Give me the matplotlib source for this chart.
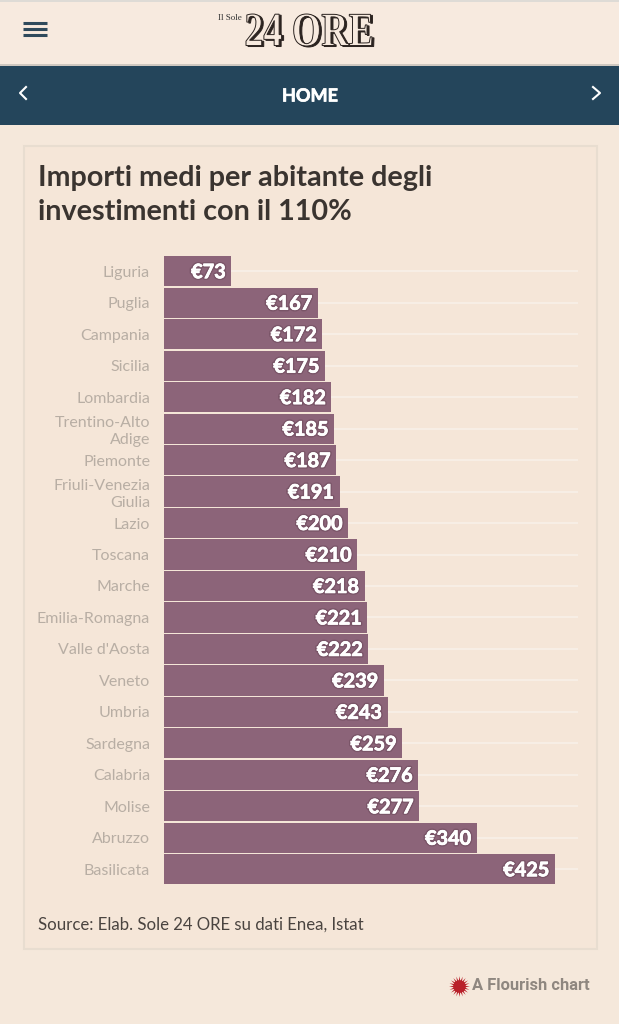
import matplotlib
matplotlib.use("Agg")
import matplotlib.pyplot as plt
import matplotlib.patheffects as pe
from matplotlib.patches import Rectangle, PathPatch
from matplotlib.markers import MarkerStyle
from matplotlib.textpath import TextPath
from matplotlib.font_manager import FontProperties
from matplotlib.transforms import Affine2D

regions = ["Liguria", "Puglia", "Campania", "Sicilia", "Lombardia", "Trentino-Alto\nAdige",
           "Piemonte", "Friuli-Venezia\nGiulia", "Lazio", "Toscana", "Marche", "Emilia-Romagna",
           "Valle d'Aosta", "Veneto", "Umbria", "Sardegna", "Calabria", "Molise", "Abruzzo", "Basilicata"]
values = [73, 167, 172, 175, 182, 185, 187, 191, 200, 210, 218, 221, 222, 239, 243, 259, 276, 277, 340, 425]

W, H = 619, 1024
BG = "#f5e8db"
BAR = "#8c6479"
NAVY = "#24455b"
FONT = "Lato"

plt.rcParams["font.family"] = [FONT, "DejaVu Sans"]
fig = plt.figure(figsize=(W / 100, H / 100), dpi=100, facecolor=BG)

# page furniture, drawn in pixel coordinates
page = fig.add_axes([0, 0, 1, 1])
page.set_xlim(0, W)
page.set_ylim(H, 0)
page.axis("off")
page.add_patch(Rectangle((0, 0), W, 65, fc="#f7eadf", ec="none"))
page.add_patch(Rectangle((0, 0), W, 1.5, fc="#dedbd6", ec="none"))
page.add_patch(Rectangle((0, 64), W, 2, fc="#cfc8c0", ec="none"))
page.add_patch(Rectangle((0, 66), W, 59, fc=NAVY, ec="none"))
page.add_patch(Rectangle((23.5, 145.5), 573, 803, fc="#f5e6d8", ec="#e8ddd0", lw=1.5))
for y in (23, 29, 35):
    page.plot([23, 47], [y, y], color="#2f4a5c", lw=2.2, solid_capstyle="butt")
page.text(310, 96, "HOME", color="white", fontsize=13, fontweight="bold", ha="center", va="center",
          path_effects=[pe.withStroke(linewidth=0.5, foreground="white")])
page.plot([26, 20, 26], [87, 93, 99], color="white", lw=1.5)
page.plot([593, 600, 593], [87, 93, 99], color="white", lw=1.5)
page.text(218, 18, "Il Sole", family="Liberation Serif", fontsize=6.5, color="#333333", va="center")

# logo wordmark squeezed to the tall narrow shape of the masthead
logo = TextPath((0, 0), "24 ORE", size=30, prop=FontProperties(family="Liberation Serif", weight="bold"))
bb = logo.get_extents()
sx, sy = 126 / bb.width, 32 / bb.height
for dx, fc, ec in ((2, "#2b2320", "#2b2320"), (0, "#f7eadf", "#2b2320")):
    tr = Affine2D().translate(-bb.x0, -bb.y0).scale(sx, -sy).translate(246 + dx, 46 + dx / 2) + page.transData
    page.add_patch(PathPatch(logo, fc=fc, ec=ec, lw=0.7, transform=tr))

page.text(38, 178, "Importi medi per abitante degli", fontsize=20.7, fontweight="bold", color="#3a3430", va="center")
page.text(38, 212, "investimenti con il 110%", fontsize=20.7, fontweight="bold", color="#3a3430", va="center")
page.text(38, 925, "Source: Elab. Sole 24 ORE su dati Enea, Istat", fontsize=12.1, color="#4a4440", va="center")
page.plot([459], [986], marker=MarkerStyle((20, 1, 0)), ms=15, color="#b9202a", mew=0)
page.plot([459], [986], marker="o", ms=9, color="#b9202a", mew=0)
page.text(472, 986, "A Flourish chart", family="Roboto", fontsize=11.9, fontweight="bold", color="#8f8780", va="center")

# chart area
ax = fig.add_axes([164 / W, 1 - 885 / H, (578 - 164) / W, (885 - 255.5) / H])
ax.patch.set_alpha(0)
ypos = list(range(len(values)))
ax.hlines(ypos, 0, 450, color="#f8efe6", lw=1.4, zorder=1)
ax.barh(ypos, values, height=0.96, color=BAR, edgecolor="none", zorder=2)
ax.set_xlim(0, 450)
ax.set_ylim(len(values) - 0.5, -0.5)
ax.set_xticks([])
ax.set_yticks(ypos)
ax.set_yticklabels(regions, fontsize=11.5, color="#b8aea4", linespacing=1.25)
ax.tick_params(axis="y", length=0, pad=10)
for s in ax.spines.values():
    s.set_visible(False)
for i, v in enumerate(values):
    ax.text(v - 6, i + 0.03, f"€{v}", color="white", fontsize=14.3, fontweight="bold", ha="right", va="center",
            zorder=3, path_effects=[pe.withStroke(linewidth=2.5, foreground="#7a5568"),
                                    pe.withStroke(linewidth=0.5, foreground="white")])

fig.savefig("out.png", dpi=100, facecolor=BG)
